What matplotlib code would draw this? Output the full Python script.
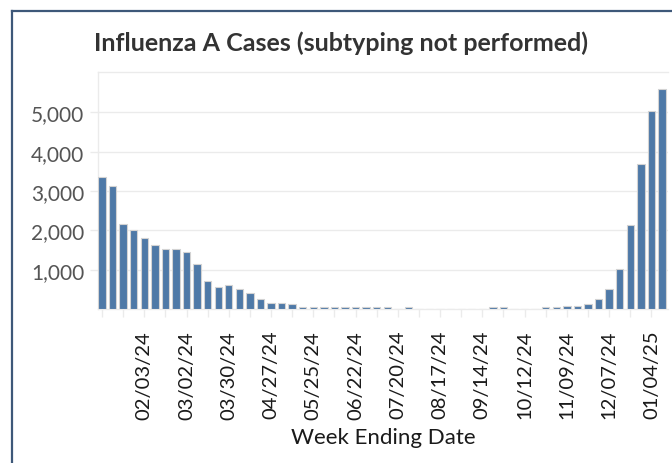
import numpy as np
import pandas as pd
import matplotlib
matplotlib.use('Agg')
import matplotlib.pyplot as plt
from matplotlib.lines import Line2D

# weekly counts, week ending 01/06/24 .. 01/11/25
weeks = pd.date_range('2024-01-06', '2025-01-11', freq='7D')
cases = [3360, 3120, 2175, 2020, 1800, 1640, 1520, 1520, 1440, 1150,
         700, 550, 620, 500, 410, 250, 160, 160, 120, 50,
         50, 50, 50, 50, 50, 50, 50, 50, 0, 50,
         0, 0, 0, 0, 0, 0, 0, 40, 40, 0,
         0, 0, 40, 40, 85, 85, 130, 260, 500, 1030,
         2130, 3680, 5040, 5610]
yticks = [1000, 2000, 3000, 4000, 5000]

title = 'Influenza A Cases (subtyping not performed)'
xlabel = 'Week Ending Date'

plt.rcParams['font.family'] = ['Lato', 'DejaVu Sans']

grid_c = '#ebebeb'
bar_c = '#4e79a7'

fig = plt.figure(figsize=(6.72, 4.64), dpi=100)
ax = fig.add_axes([98/672, 1 - 310/464, 570/672, 237/464])

x = np.arange(len(weeks))
ax.bar(x, cases, width=0.7, color=bar_c, edgecolor='#d3d3d3', linewidth=0.8, zorder=3)

ax.set_xlim(-0.38, len(weeks) - 1 + 0.57)
ax.set_ylim(0, 6030)

ax.set_yticks(yticks)
ax.set_yticklabels(['{:,}'.format(v) for v in yticks])
ax.grid(axis='y', color=grid_c, linewidth=1.0, zorder=0)

major = x[4::4]
ax.set_xticks(major)
ax.set_xticklabels([d.strftime('%m/%d/%y') for d in weeks[4::4]], rotation=90)
ax.set_xticks(x[::2], minor=True)

ax.tick_params(axis='y', length=6, color=grid_c, width=1, pad=4,
               labelsize=15, labelcolor='#555555')
ax.tick_params(axis='x', which='both', length=6, color=grid_c, width=1,
               pad=9, labelsize=14.5, labelcolor='#1a1a1a')

for s in ['top', 'left', 'bottom']:
    ax.spines[s].set_color(grid_c)
    ax.spines[s].set_linewidth(1)
ax.spines['right'].set_visible(False)

ax.set_xlabel(xlabel, fontsize=16, color='#1a1a1a', labelpad=6)
fig.text(0.508, 1 - 43/464, title, ha='center', va='center',
         fontsize=18, fontweight='bold', color='#333333')

# frame around the figure (only top and left edges visible)
border = '#3e5879'
fig.add_artist(Line2D([12/672, 1], [1 - 12/464, 1 - 12/464], color=border, linewidth=1.6))
fig.add_artist(Line2D([12/672, 12/672], [0, 1 - 12/464], color=border, linewidth=1.6))

fig.savefig('out.png', dpi=100)
